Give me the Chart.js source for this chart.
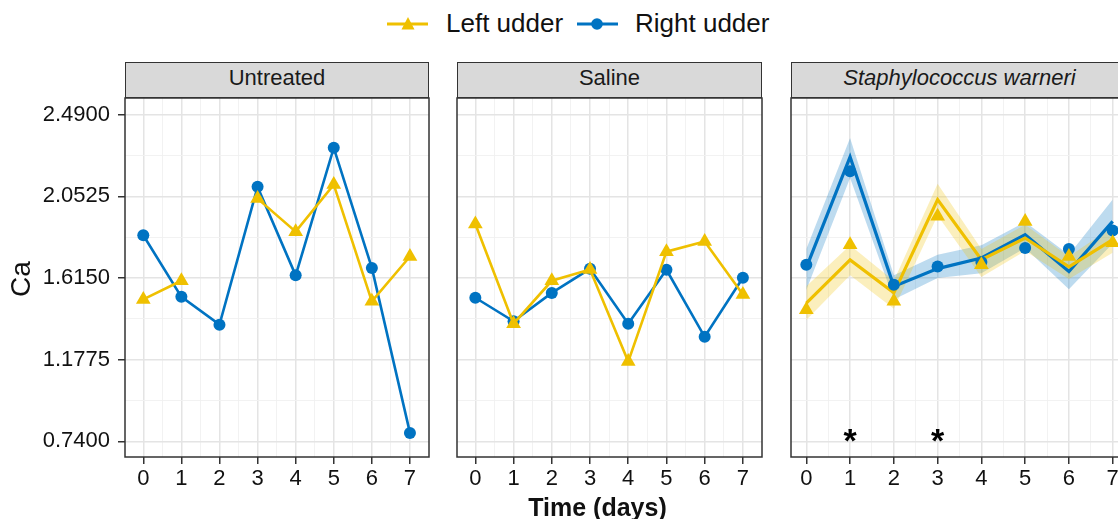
<!DOCTYPE html>
<html>
<head>
<meta charset="utf-8">
<title>Ca by udder side over time</title>
<script src="https://cdn.jsdelivr.net/npm/chart.js@4.4.1/dist/chart.umd.min.js"></script>
<style>
  html, body { margin: 0; padding: 0; background: #fff; overflow: hidden; }
  #fig { position: relative; width: 1118px; height: 519px; overflow: hidden;
         font-family: "Liberation Sans", Arial, sans-serif; color: #1a1a1a; background: #fff; }
  canvas.panel { position: absolute; top: 90px; }
  .strip { position: absolute; top: 62px; height: 36px; box-sizing: border-box;
           background: #d9d9d9; border: 1.5px solid #333; font-size: 22px;
           line-height: 30px; padding-bottom: 3px; text-align: center; color: #1a1a1a; white-space: nowrap; }
  .leg-text { position: absolute; top: 7.6px; font-size: 26px; line-height: 30px; color: #111; white-space: nowrap; }
  #ytitle { position: absolute; left: -29px; top: 263.5px; width: 100px; height: 30px; line-height: 30px;
            text-align: center; font-size: 28px; color: #111; transform: rotate(-90deg); }
  #xtitle { position: absolute; left: 397.5px; top: 492px; width: 400px; line-height: 30px;
            text-align: center; font-size: 25px; font-weight: bold; color: #111; }
</style>
</head>
<body>
<div id="fig">
  <canvas id="pUntreated" class="panel" width="433" height="410" style="left:0px"></canvas>
  <canvas id="pSaline" class="panel" width="313" height="410" style="left:453px"></canvas>
  <canvas id="pWarneri" class="panel" width="345" height="410" style="left:787px"></canvas>

  <div class="strip" style="left:125px;width:304px">Untreated</div>
  <div class="strip" style="left:457px;width:305px">Saline</div>
  <div class="strip" style="left:791px;width:337px;font-style:italic">Staphylococcus warneri</div>

  <svg style="position:absolute;left:380px;top:10px" width="56" height="28">
    <line x1="7" y1="14" x2="48" y2="14" stroke="#EFC000" stroke-width="3"/>
    <polygon points="28,7 34.5,19.5 21.5,19.5" fill="#EFC000"/>
  </svg>
  <div class="leg-text" style="left:446px">Left udder</div>
  <svg style="position:absolute;left:570px;top:10px" width="56" height="28">
    <line x1="7" y1="14" x2="48" y2="14" stroke="#0073C2" stroke-width="3"/>
    <circle cx="27" cy="14" r="5.8" fill="#0073C2"/>
  </svg>
  <div class="leg-text" style="left:635px">Right udder</div>

  <div id="ytitle">Ca</div>
  <div id="xtitle">Time (days)</div>
</div>

<script>
// Sampling days
const days = [0, 1, 2, 3, 4, 5, 6, 7];
const dayLabels = ['0', '1', '2', '3', '4', '5', '6', '7'];

// Ca, untreated cows (left udder has no sample on day 2)
const untreatedLeft  = [1.500, 1.600, null, 2.040, 1.863, 2.115, 1.490, 1.730];
const untreatedRight = [1.844, 1.514, 1.365, 2.103, 1.629, 2.312, 1.669, 0.785];

// Ca, saline-infused cows
const salineLeft  = [1.904, 1.370, 1.600, 1.660, 1.167, 1.756, 1.810, 1.526];
const salineRight = [1.509, 1.383, 1.535, 1.664, 1.370, 1.659, 1.300, 1.616];

// Ca, S. warneri-challenged cows: observed means
const warneriLeft  = [1.445, 1.793, 1.490, 1.945, 1.686, 1.918, 1.730, 1.803];
const warneriRight = [1.686, 2.187, 1.579, 1.677, 1.700, 1.776, 1.770, 1.869];

// Model estimates with confidence limits
const warneriLeftFit   = [1.480, 1.712, 1.535, 2.035, 1.713, 1.829, 1.674, 1.820];
const warneriLeftLow   = [1.390, 1.630, 1.450, 1.950, 1.620, 1.760, 1.610, 1.750];
const warneriLeftHigh  = [1.570, 1.790, 1.600, 2.120, 1.770, 1.900, 1.730, 1.890];
const warneriRightFit  = [1.670, 2.263, 1.570, 1.665, 1.722, 1.847, 1.650, 1.918];
const warneriRightLow  = [1.550, 2.150, 1.500, 1.615, 1.640, 1.775, 1.555, 1.800];
const warneriRightHigh = [1.770, 2.365, 1.630, 1.740, 1.790, 1.915, 1.740, 2.035];

// Days with a significant left/right difference, and the height of the marker
const signifDays = [1, 3];
const signifLevel = 0.77;

// Y axis
const yTicks = [0.74, 1.1775, 1.615, 2.0525, 2.49];
const yTickLabels = ['0.7400', '1.1775', '1.6150', '2.0525', '2.4900'];
const yMin = 0.656, yMax = 2.579;

const LEFT_COLOR = '#EFC000';
const RIGHT_COLOR = '#0073C2';
const FONT = '"Liberation Sans", Arial, sans-serif';

Chart.defaults.font.family = FONT;

const toXY = vals => days.map((d, i) => ({ x: d, y: vals[i] }));

// Major ticks plus the midpoints between them (minor grid)
function withMinors(majors) {
  const out = [];
  majors.forEach((v, i) => {
    out.push({ value: v });
    if (i < majors.length - 1) out.push({ value: (v + majors[i + 1]) / 2 });
  });
  return out;
}
const isMajor = (list, v) => list.some(t => Math.abs(t - v) < 1e-6);

const framePlugin = {
  id: 'panelFrame',
  afterDatasetsDraw(chart) {
    const { ctx, chartArea: a } = chart;
    ctx.save();
    ctx.strokeStyle = '#333';
    ctx.lineWidth = 1.5;
    ctx.strokeRect(a.left, a.top, a.right - a.left, a.bottom - a.top);
    ctx.restore();
  }
};

const signifPlugin = {
  id: 'signifMarks',
  afterDatasetsDraw(chart) {
    const { ctx, scales: { x, y } } = chart;
    ctx.save();
    ctx.font = 'bold 34px ' + FONT;
    ctx.fillStyle = '#000';
    ctx.textAlign = 'center';
    ctx.textBaseline = 'alphabetic';
    const m = ctx.measureText('*');
    const shift = (m.actualBoundingBoxAscent - m.actualBoundingBoxDescent) / 2;
    signifDays.forEach(d => {
      ctx.fillText('*', x.getPixelForValue(d), y.getPixelForValue(signifLevel) + shift);
    });
    ctx.restore();
  }
};

function makePanel(id, opt) {
  const xMajors = days;
  return new Chart(document.getElementById(id), {
    type: 'line',
    data: { datasets: opt.datasets },
    options: {
      responsive: false,
      animation: false,
      devicePixelRatio: 1,
      layout: { autoPadding: false, padding: { top: 8, bottom: 0, left: opt.padLeft, right: 4 } },
      plugins: {
        legend: { display: false },
        tooltip: { enabled: false },
        filler: { drawTime: 'beforeDatasetsDraw' }
      },
      scales: {
        x: {
          type: 'linear',
          min: opt.xMin,
          max: opt.xMax,
          afterBuildTicks: s => { s.ticks = withMinors(xMajors); },
          afterFit: s => { s.height = 43; s.paddingLeft = 0; s.paddingRight = 0; },
          border: { display: false },
          grid: {
            color: c => isMajor(xMajors, c.tick.value) ? '#e4e4e4' : '#f0f0f0',
            lineWidth: c => isMajor(xMajors, c.tick.value) ? 1.5 : 0.9,
            tickColor: c => isMajor(xMajors, c.tick.value) ? '#333' : 'rgba(0,0,0,0)',
            tickWidth: 1.5,
            tickLength: 7
          },
          ticks: {
            autoSkip: false, maxRotation: 0, minRotation: 0, padding: 2,
            color: '#111', font: { size: 22 },
            callback: v => {
              const i = xMajors.findIndex(d => Math.abs(d - v) < 1e-6);
              return i >= 0 ? dayLabels[i] : '';
            }
          }
        },
        y: {
          min: yMin,
          max: yMax,
          afterBuildTicks: s => { s.ticks = withMinors(yTicks); },
          afterFit: s => { s.width = opt.yWidth; s.paddingTop = 0; s.paddingBottom = 0; },
          border: { display: false },
          grid: {
            color: c => isMajor(yTicks, c.tick.value) ? '#e4e4e4' : '#f0f0f0',
            lineWidth: c => isMajor(yTicks, c.tick.value) ? 1.5 : 0.9,
            tickColor: c => isMajor(yTicks, c.tick.value) ? '#333' : 'rgba(0,0,0,0)',
            tickWidth: 1.5,
            tickLength: 7,
            drawTicks: opt.showY
          },
          ticks: {
            display: opt.showY,
            autoSkip: false, padding: 8,
            color: '#111', font: { size: 22 },
            callback: v => {
              const i = yTicks.findIndex(t => Math.abs(t - v) < 1e-6);
              return i >= 0 ? yTickLabels[i] : '';
            }
          }
        }
      }
    },
    plugins: [framePlugin].concat(opt.extraPlugins || [])
  });
}

function rawSeries(label, vals, color, style, order) {
  return {
    label, data: toXY(vals), order,
    borderColor: color, backgroundColor: color, borderWidth: 2.6,
    pointStyle: style, pointRadius: style === 'triangle' ? 8.5 : 6,
    pointBackgroundColor: color, pointBorderWidth: 0, pointHoverRadius: 0,
    spanGaps: false, tension: 0, fill: false
  };
}

function rawPanel(id, left, right, padLeft, yWidth, showY) {
  return makePanel(id, {
    xMin: -0.48, xMax: 7.5, padLeft, yWidth, showY,
    datasets: [
      rawSeries('Left udder', left, LEFT_COLOR, 'triangle', 0),
      rawSeries('Right udder', right, RIGHT_COLOR, 'circle', 1)
    ]
  });
}

rawPanel('pUntreated', untreatedLeft, untreatedRight, 0, 125, true);
rawPanel('pSaline', salineLeft, salineRight, 4, 0, false);

// Fitted lines with confidence bands plus observed means
const bandEdge = (label, vals, order) => ({
  label, data: toXY(vals), order,
  borderColor: 'rgba(0,0,0,0)', borderWidth: 0, pointRadius: 0, pointHoverRadius: 0,
  tension: 0, fill: false
});
const warneriSets = [
  /* 0 */ bandEdge('Right udder upper', warneriRightHigh, 7),
  /* 1 */ Object.assign(bandEdge('Right udder lower', warneriRightLow, 6),
            { fill: { target: 0 }, backgroundColor: 'rgba(0,115,194,0.26)' }),
  /* 2 */ bandEdge('Left udder upper', warneriLeftHigh, 5),
  /* 3 */ Object.assign(bandEdge('Left udder lower', warneriLeftLow, 4),
            { fill: { target: 2 }, backgroundColor: 'rgba(239,192,0,0.26)' }),
  /* 4 */ { label: 'Right udder fit', data: toXY(warneriRightFit), order: 3,
            borderColor: RIGHT_COLOR, borderWidth: 3.2, pointRadius: 0, pointHoverRadius: 0, tension: 0, fill: false },
  /* 5 */ { label: 'Left udder fit', data: toXY(warneriLeftFit), order: 2,
            borderColor: LEFT_COLOR, borderWidth: 3.2, pointRadius: 0, pointHoverRadius: 0, tension: 0, fill: false },
  /* 6 */ Object.assign(rawSeries('Right udder', warneriRight, RIGHT_COLOR, 'circle', 1), { showLine: false }),
  /* 7 */ Object.assign(rawSeries('Left udder', warneriLeft, LEFT_COLOR, 'triangle', 0), { showLine: false })
];

makePanel('pWarneri', {
  xMin: -0.35, xMax: 7.35, padLeft: 4, yWidth: 0, showY: false,
  datasets: warneriSets,
  extraPlugins: [signifPlugin]
});
</script>
</body>
</html>
